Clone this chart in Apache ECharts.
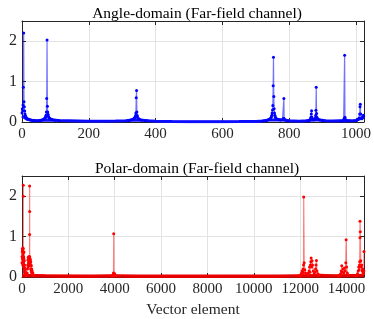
<!DOCTYPE html>
<html><head><meta charset="utf-8">
<script src="https://cdn.jsdelivr.net/npm/echarts@6/dist/echarts.min.js"></script>
<style>html,body{margin:0;padding:0;background:#fff}#c{width:374px;height:319px}</style>
</head><body><div id="c"></div>
<script>
// ---------- texts & ticks ----------
const angleTitle = 'Angle-domain (Far-field channel)';
const polarTitle = 'Polar-domain (Far-field channel)';
const xAxisName = 'Vector element';
const angleXMax = 1024;
const polarXMax = 14750;
const angleXTicks = [0, 200, 400, 600, 800, 1000];
const polarXTicks = [0, 2000, 4000, 6000, 8000, 10000, 12000, 14000];
const yTicks = [0, 1, 2];
const yMax = 2.5;

// ---------- angle-domain data (blue) ----------
const angleFloorX = [0, 15, 30, 45, 60, 90, 110, 140, 170, 200, 240, 280, 310, 330, 360, 380, 400, 450, 500, 550, 600, 650, 700, 720, 740, 770, 790, 800, 830, 850, 870, 890, 910, 930, 950, 980, 1000, 1024];
const angleFloorY = [0.15, 0.07, 0.04, 0.03, 0.045, 0.05, 0.035, 0.03, 0.025, 0.02, 0.02, 0.025, 0.03, 0.05, 0.045, 0.03, 0.02, 0.012, 0.008, 0.006, 0.007, 0.01, 0.015, 0.025, 0.05, 0.055, 0.045, 0.03, 0.02, 0.03, 0.05, 0.05, 0.03, 0.025, 0.03, 0.03, 0.04, 0.12];
const angleX = [0, 1, 2, 3, 4, 5, 6, 7, 8, 9, 10, 11, 12, 13, 15, 17, 19, 22, 26, 30, 35, 40, 48, 55, 60, 63, 66, 68, 70, 71, 72, 73, 74, 75, 76, 77, 78, 79, 80, 82, 84, 87, 90, 95, 100, 110,
  320, 326, 330, 333, 336, 338, 340, 341, 342, 343, 344, 345, 346, 348, 351, 355, 360, 370,
  720, 730, 736, 740, 743, 745, 747, 748, 749, 750, 751, 752, 753, 754, 755, 756, 757, 758, 760, 762, 765, 770, 775, 780, 783, 784, 785, 788, 795,
  855, 860, 863, 865, 866, 867, 868, 870, 873, 876, 878, 879, 880, 881, 882, 883, 885, 888, 892, 900,
  955, 960, 963, 965, 966, 967, 969, 972, 980,
  995, 1002, 1006, 1009, 1011, 1012, 1013, 1014, 1016, 1018, 1020, 1022, 1023];
const angleY = [0.22, 0.33, 0.28, 0.42, 0.86, 2.2, 0.5, 0.38, 0.27, 0.2, 0.16, 0.13, 0.11, 0.1, 0.085, 0.075, 0.065, 0.055, 0.048, 0.042, 0.038, 0.035, 0.034, 0.04, 0.05, 0.06, 0.075, 0.09, 0.11, 0.13, 0.17, 0.25, 0.58, 2.03, 0.39, 0.25, 0.19, 0.15, 0.12, 0.1, 0.085, 0.07, 0.06, 0.05, 0.045, 0.035,
  0.03, 0.05, 0.06, 0.075, 0.09, 0.12, 0.16, 0.22, 0.6, 0.78, 0.25, 0.16, 0.12, 0.09, 0.07, 0.055, 0.045, 0.03,
  0.025, 0.04, 0.05, 0.065, 0.08, 0.1, 0.13, 0.17, 0.22, 0.3, 0.41, 0.9, 1.6, 0.63, 0.33, 0.22, 0.17, 0.13, 0.1, 0.08, 0.065, 0.055, 0.05, 0.06, 0.09, 0.58, 0.08, 0.05, 0.03,
  0.02, 0.04, 0.07, 0.12, 0.2, 0.28, 0.12, 0.06, 0.05, 0.07, 0.1, 0.16, 0.29, 0.86, 0.21, 0.12, 0.08, 0.06, 0.05, 0.03,
  0.02, 0.03, 0.05, 0.09, 1.65, 0.12, 0.06, 0.04, 0.03,
  0.03, 0.04, 0.06, 0.1, 0.2, 0.38, 0.44, 0.2, 0.1, 0.08, 0.12, 0.17, 0.15];

// ---------- polar-domain data (red) ----------
const polarFloorX = [0, 500, 1000, 2000, 3000, 3800, 4100, 5000, 6000, 7000, 8000, 9000, 10000, 11000, 11900, 12800, 13600, 14100, 14400, 14750];
const polarFloorY = [0.03, 0.03, 0.025, 0.02, 0.02, 0.025, 0.025, 0.02, 0.02, 0.02, 0.02, 0.02, 0.02, 0.02, 0.025, 0.03, 0.025, 0.03, 0.03, 0.04];
const polarX = [0, 5, 10, 15, 20, 25, 30, 35, 40, 45, 50, 54, 55, 56, 57, 60, 65, 70, 75, 80, 85, 90, 95, 100, 105, 110, 115, 120, 125, 130, 140, 150, 160, 175, 190, 210,
  225, 235, 245, 255, 262, 270, 278, 285, 292, 300, 310, 320, 328, 329, 330, 331, 332, 341, 348, 355, 362, 370, 378, 386, 394, 402, 410, 420, 430, 440, 455, 470, 500,
  3880, 3920, 3935, 3945, 3950, 3955, 3965, 3980, 3995, 4030,
  11950, 12000, 12030, 12060, 12080, 12100, 12120, 12135, 12142, 12150, 12170, 12200, 12230, 12280, 12320, 12350, 12380, 12400, 12420, 12440, 12455, 12470, 12490, 12510, 12530, 12560, 12600, 12630, 12660, 12680, 12700, 12720, 12760, 12800,
  13650, 13700, 13740, 13770, 13790, 13820, 13850, 13880, 13910, 13940, 13965, 13980, 14000, 14030, 14070,
  14400, 14440, 14470, 14500, 14520, 14540, 14555, 14565, 14575, 14580, 14590, 14610, 14630, 14650, 14670, 14690, 14710, 14730, 14745, 14750];
const polarY = [0.35, 0.5, 0.62, 0.7, 0.45, 0.66, 0.3, 0.55, 0.72, 0.4, 0.6, 0.7, 2.27, 2.0, 0.5, 0.6, 0.35, 0.5, 0.25, 0.45, 0.62, 0.3, 0.2, 0.4, 0.15, 0.3, 0.12, 0.22, 0.1, 0.18, 0.08, 0.12, 0.05, 0.07, 0.04, 0.05,
  0.1, 0.2, 0.3, 0.42, 0.25, 0.48, 0.35, 0.5, 0.3, 0.45, 0.38, 0.5, 0.45, 1.05, 2.25, 1.62, 0.5, 0.28, 0.45, 0.35, 0.42, 0.2, 0.38, 0.3, 0.15, 0.28, 0.12, 0.2, 0.08, 0.15, 0.06, 0.1, 0.04, 0.03,
  0.03, 0.05, 0.08, 0.1, 1.07, 0.09, 0.06, 0.08, 0.04, 0.03,
  0.03, 0.06, 0.1, 0.15, 0.08, 0.2, 0.12, 0.3, 1.98, 0.35, 0.18, 0.1, 0.06, 0.05, 0.1, 0.15, 0.25, 0.12, 0.3, 0.38, 0.47, 0.25, 0.4, 0.3, 0.15, 0.08, 0.12, 0.2, 0.3, 0.41, 0.15, 0.08, 0.05, 0.03,
  0.03, 0.08, 0.15, 0.28, 0.12, 0.2, 0.1, 0.22, 0.15, 0.35, 0.92, 0.25, 0.1, 0.05, 0.03,
  0.03, 0.08, 0.15, 0.25, 0.18, 0.3, 0.38, 0.97, 1.38, 1.12, 0.4, 0.25, 0.3, 0.15, 0.2, 0.1, 0.08, 0.15, 0.63, 0.05];

// ---------- build chart ----------
const zip = (xs, ys) => xs.map((x, i) => [x, ys[i]]);
const FONT = 'Liberation Serif';
const AX = '#262626';
function xAxes(gridIndex, max, ticks, withName) {
  const bottom = {
    type: 'value', gridIndex, min: 0, max, interval: ticks[1] - ticks[0], position: 'bottom',
    axisLine: { show: true, onZero: false, lineStyle: { color: AX, width: 1 } },
    axisTick: { show: true, inside: true, length: 4, lineStyle: { color: AX } },
    axisLabel: { fontFamily: FONT, fontSize: 15, color: AX, margin: 5, showMaxLabel: true,
      formatter: v => (ticks.indexOf(v) >= 0 ? String(v) : '') },
    splitLine: { show: true, lineStyle: { color: '#e3e3e3', width: 1 } }
  };
  if (withName) {
    bottom.name = xAxisName; bottom.nameLocation = 'middle'; bottom.nameGap = 25;
    bottom.nameTextStyle = { fontFamily: FONT, fontSize: 15.5, color: AX };
  }
  const top = {
    type: 'value', gridIndex, min: 0, max, interval: ticks[1] - ticks[0], position: 'top',
    axisLine: { show: true, onZero: false, lineStyle: { color: AX, width: 1 } },
    axisTick: { show: true, inside: true, length: 4, lineStyle: { color: AX } },
    axisLabel: { show: false }, splitLine: { show: false }
  };
  return [bottom, top];
}
function yAxes(gridIndex) {
  const left = {
    type: 'value', gridIndex, min: 0, max: yMax, interval: 1, position: 'left',
    axisLine: { show: true, onZero: false, lineStyle: { color: AX, width: 1 } },
    axisTick: { show: true, inside: true, length: 4, lineStyle: { color: AX } },
    axisLabel: { fontFamily: FONT, fontSize: 16, color: AX, margin: 5,
      formatter: v => (yTicks.indexOf(v) >= 0 ? String(v) : '') },
    splitLine: { show: true, lineStyle: { color: '#e3e3e3', width: 1 } }
  };
  const right = {
    type: 'value', gridIndex, min: 0, max: yMax, interval: 1, position: 'right',
    axisLine: { show: true, onZero: false, lineStyle: { color: AX, width: 1 } },
    axisTick: { show: true, inside: true, length: 4, lineStyle: { color: AX } },
    axisLabel: { show: false }, splitLine: { show: false }
  };
  return [left, right];
}
const chart = echarts.init(document.getElementById('c'), null, { renderer: 'canvas' });
chart.setOption({
  animation: false,
  backgroundColor: '#fff',
  title: [
    { text: angleTitle, left: 192, top: 1, textAlign: 'center',
      textStyle: { fontFamily: FONT, fontSize: 15.5, fontWeight: 'normal', color: '#000' } },
    { text: polarTitle, left: 192, top: 156, textAlign: 'center',
      textStyle: { fontFamily: FONT, fontSize: 15.5, fontWeight: 'normal', color: '#000' } }
  ],
  grid: [
    { left: 22, top: 21, width: 342, height: 101 },
    { left: 22, top: 176, width: 342, height: 102 }
  ],
  xAxis: [...xAxes(0, angleXMax, angleXTicks, false), ...xAxes(1, polarXMax, polarXTicks, true)],
  yAxis: [...yAxes(0), ...yAxes(1)],
  series: [
    { type: 'line', xAxisIndex: 0, yAxisIndex: 0, data: zip(angleFloorX, angleFloorY),
      showSymbol: false, lineStyle: { color: '#1010ff', width: 3 }, z: 2 },
    { type: 'line', xAxisIndex: 0, yAxisIndex: 0, data: zip(angleX, angleY),
      symbol: 'circle', symbolSize: 3, itemStyle: { color: '#0000ff' },
      lineStyle: { color: 'rgba(0,0,255,0.55)', width: 1.2 }, z: 3 },
    { type: 'line', xAxisIndex: 2, yAxisIndex: 2, data: zip(polarFloorX, polarFloorY),
      showSymbol: false, lineStyle: { color: '#e00000', width: 3.5 }, z: 2 },
    { type: 'line', xAxisIndex: 2, yAxisIndex: 2, data: zip(polarX, polarY),
      symbol: 'circle', symbolSize: 3, itemStyle: { color: '#ff0000' },
      lineStyle: { color: 'rgba(255,0,0,0.5)', width: 1.2 }, z: 3 }
  ]
});
</script>
</body></html>
